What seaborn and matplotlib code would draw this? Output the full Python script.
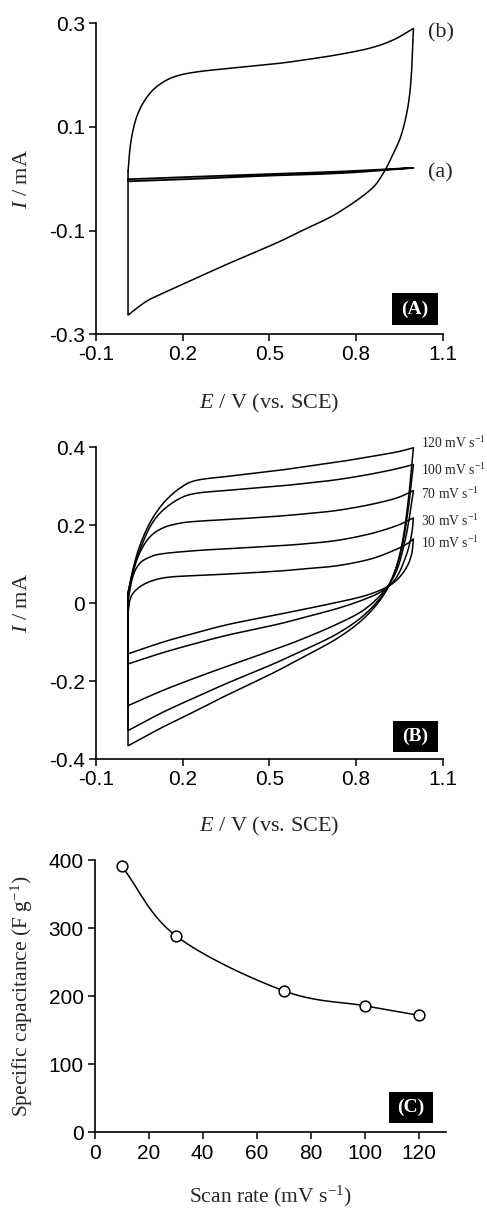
import numpy as np
import matplotlib
matplotlib.use("Agg")
import matplotlib.pyplot as plt
from matplotlib.patches import Rectangle
import seaborn as sns

# ---------------- data ----------------
# Panel A : CV curves (E in V vs SCE, I in mA)
a_up_E = [0.011, 0.25, 0.5, 0.75, 0.998]
a_up_I = [-0.001, 0.004, 0.009, 0.014, 0.021]
a_dn_E = [0.998, 0.75, 0.5, 0.25, 0.011]
a_dn_I = [0.021, 0.011, 0.006, 0.000, -0.005]

b_up_E = [0.011, 0.016, 0.025, 0.040, 0.062, 0.095, 0.140, 0.190, 0.260, 0.361, 0.523, 0.617, 0.733, 0.848, 0.929, 0.998]
b_up_I = [0.014, 0.050, 0.085, 0.118, 0.145, 0.170, 0.189, 0.200, 0.207, 0.213, 0.222, 0.229, 0.239, 0.252, 0.268, 0.290]
b_dn_E = [0.998, 0.992, 0.981, 0.958, 0.929, 0.894, 0.848, 0.733, 0.617, 0.520, 0.361, 0.246, 0.131, 0.073, 0.011]
b_dn_I = [0.290, 0.210, 0.146, 0.088, 0.049, 0.011, -0.022, -0.067, -0.099, -0.125, -0.163, -0.192, -0.221, -0.237, -0.263]

# Panel B : CV at different scan rates
scan_labels = ["120 mV s$^{-1}$", "100 mV s$^{-1}$", "70 mV s$^{-1}$", "30 mV s$^{-1}$", "10 mV s$^{-1}$"]
label_I = [0.410, 0.343, 0.279, 0.212, 0.154]

up120_E = [0.011, 0.027, 0.050, 0.085, 0.131, 0.188, 0.246, 0.361, 0.523, 0.617, 0.733, 0.848, 0.940, 0.998]
up120_I = [0.028, 0.084, 0.144, 0.204, 0.255, 0.294, 0.315, 0.326, 0.340, 0.350, 0.362, 0.376, 0.388, 0.399]
dn120_E = [0.998, 0.984, 0.963, 0.935, 0.894, 0.825, 0.733, 0.617, 0.510, 0.361, 0.246, 0.131, 0.011]
dn120_I = [0.399, 0.289, 0.170, 0.084, 0.020, -0.040, -0.091, -0.138, -0.180, -0.233, -0.276, -0.318, -0.366]

up100_E = [0.011, 0.027, 0.056, 0.090, 0.131, 0.188, 0.246, 0.361, 0.523, 0.617, 0.733, 0.848, 0.940, 0.998]
up100_I = [0.024, 0.080, 0.144, 0.200, 0.238, 0.268, 0.282, 0.290, 0.300, 0.307, 0.317, 0.331, 0.345, 0.356]
dn100_E = [0.998, 0.984, 0.963, 0.935, 0.894, 0.825, 0.733, 0.617, 0.510, 0.361, 0.246, 0.131, 0.011]
dn100_I = [0.356, 0.264, 0.161, 0.084, 0.024, -0.032, -0.079, -0.121, -0.157, -0.203, -0.241, -0.280, -0.327]

up70_E = [0.011, 0.027, 0.050, 0.085, 0.131, 0.188, 0.246, 0.361, 0.523, 0.617, 0.733, 0.848, 0.940, 0.998]
up70_I = [0.020, 0.076, 0.127, 0.169, 0.193, 0.205, 0.210, 0.215, 0.223, 0.229, 0.238, 0.253, 0.270, 0.289]
dn70_E = [0.998, 0.986, 0.969, 0.940, 0.894, 0.825, 0.733, 0.617, 0.513, 0.361, 0.246, 0.131, 0.011]
dn70_I = [0.289, 0.229, 0.161, 0.084, 0.029, -0.018, -0.054, -0.091, -0.120, -0.160, -0.191, -0.224, -0.263]

up30_E = [0.011, 0.027, 0.050, 0.085, 0.131, 0.246, 0.361, 0.523, 0.617, 0.733, 0.848, 0.940, 0.998]
up30_I = [0.007, 0.067, 0.101, 0.118, 0.127, 0.135, 0.140, 0.147, 0.152, 0.161, 0.178, 0.199, 0.219]
dn30_E = [0.998, 0.992, 0.975, 0.940, 0.894, 0.825, 0.733, 0.617, 0.523, 0.361, 0.246, 0.131, 0.011]
dn30_I = [0.219, 0.178, 0.127, 0.067, 0.033, 0.009, -0.014, -0.037, -0.055, -0.081, -0.103, -0.127, -0.156]

up10_E = [0.011, 0.021, 0.050, 0.096, 0.154, 0.246, 0.361, 0.523, 0.617, 0.733, 0.848, 0.929, 0.975, 0.998]
up10_I = [-0.023, 0.016, 0.041, 0.058, 0.067, 0.071, 0.075, 0.082, 0.088, 0.096, 0.113, 0.135, 0.152, 0.165]
dn10_E = [0.998, 0.992, 0.975, 0.940, 0.894, 0.825, 0.733, 0.617, 0.523, 0.361, 0.246, 0.131, 0.011]
dn10_I = [0.165, 0.127, 0.093, 0.059, 0.037, 0.018, 0.002, -0.016, -0.030, -0.054, -0.076, -0.100, -0.130]

# Panel C : specific capacitance vs scan rate
scan_rate = [10, 30, 70, 100, 120]
capacitance = [391, 289, 208, 186, 172]


# ---------------- helpers ----------------
def smooth(x, y, n=14):
    pts = np.column_stack([x, y]).astype(float)
    P = np.vstack([2 * pts[0] - pts[1], pts, 2 * pts[-1] - pts[-2]])
    out = []
    t = np.linspace(0, 1, n, endpoint=False)[:, None]
    for i in range(1, len(P) - 2):
        p0, p1, p2, p3 = P[i - 1], P[i], P[i + 1], P[i + 2]
        seg = 0.5 * (2 * p1 + (-p0 + p2) * t + (2 * p0 - 5 * p1 + 4 * p2 - p3) * t ** 2
                     + (-p0 + 3 * p1 - 3 * p2 + p3) * t ** 3)
        out.append(seg)
    out.append(pts[-1:])
    s = np.vstack(out)
    return s[:, 0], s[:, 1]


def cv_loop(ax, uE, uI, dE, dI, lw=1.1):
    x1, y1 = smooth(uE, uI)
    x2, y2 = smooth(dE, dI)
    xs = np.concatenate([x1, x2, [uE[0]]])
    ys = np.concatenate([y1, y2, [uI[0]]])
    sns.lineplot(x=xs, y=ys, sort=False, estimator=None, color="black", lw=lw, ax=ax)


def style_axes(ax):
    for s in ["top", "right"]:
        ax.spines[s].set_visible(False)
    for s in ["left", "bottom"]:
        ax.spines[s].set_linewidth(1.2)
        ax.spines[s].set_color("black")
    ax.tick_params(direction="out", length=5, width=1.1, labelsize=15, pad=3, colors="black")
    for lab in ax.get_xticklabels() + ax.get_yticklabels():
        lab.set_fontfamily("Liberation Sans")


def panel_box(ax, x0, x1, y0, y1, text):
    ax.add_patch(Rectangle((x0, y0), x1 - x0, y1 - y0, transform=ax.transAxes,
                           facecolor="black", edgecolor="none", clip_on=False, zorder=5))
    ax.text((x0 + x1) / 2, (y0 + y1) / 2, text, transform=ax.transAxes, color="white",
            fontsize=14, fontweight="bold", family="Liberation Serif",
            ha="center", va="center", zorder=6)


# ---------------- figure ----------------
sns.set_style("ticks")
plt.rcParams["font.family"] = ["Liberation Serif", "DejaVu Serif"]
plt.rcParams["mathtext.fontset"] = "custom"
plt.rcParams["mathtext.rm"] = "Liberation Serif"
plt.rcParams["mathtext.it"] = "Liberation Serif:italic"
plt.rcParams["mathtext.bf"] = "Liberation Serif:bold"

fig = plt.figure(figsize=(4.87, 12.11), dpi=100)
axA = fig.add_axes([0.197, 0.7240, 0.7125, 0.2568])
axB = fig.add_axes([0.197, 0.3732, 0.7125, 0.2574])
axC = fig.add_axes([0.1944, 0.0649, 0.7208, 0.2249])

# Panel A
cv_loop(axA, a_up_E, a_up_I, a_dn_E, a_dn_I, lw=1.3)
cv_loop(axA, b_up_E, b_up_I, b_dn_E, b_dn_I)
axA.set_xlim(-0.1, 1.1)
axA.set_ylim(-0.3, 0.3)
axA.set_xticks([-0.1, 0.2, 0.5, 0.8, 1.1])
axA.set_yticks([-0.3, -0.1, 0.1, 0.3])
axA.set_xticklabels(["-0.1", "0.2", "0.5", "0.8", "1.1"])
axA.set_yticklabels(["-0.3", "-0.1", "0.1", "0.3"])
axA.text(1.047, 0.281, "(b)", fontsize=16, ha="left", va="center", family="Liberation Serif")
axA.text(1.047, 0.012, "(a)", fontsize=16, ha="left", va="center", family="Liberation Serif")
panel_box(axA, 0.853, 0.9856, 0.030, 0.1328, "(A)")

# Panel B
rates_up = [(up120_E, up120_I), (up100_E, up100_I), (up70_E, up70_I), (up30_E, up30_I), (up10_E, up10_I)]
rates_dn = [(dn120_E, dn120_I), (dn100_E, dn100_I), (dn70_E, dn70_I), (dn30_E, dn30_I), (dn10_E, dn10_I)]
for (uE, uI), (dE, dI) in zip(rates_up, rates_dn):
    cv_loop(axB, uE, uI, dE, dI)
for lab, yv in zip(scan_labels, label_I):
    axB.text(1.023, yv, lab, fontsize=9.8, ha="left", va="center", family="Liberation Serif")
axB.set_xlim(-0.1, 1.1)
axB.set_ylim(-0.4, 0.4)
axB.set_xticks([-0.1, 0.2, 0.5, 0.8, 1.1])
axB.set_yticks([-0.4, -0.2, 0, 0.2, 0.4])
axB.set_xticklabels(["-0.1", "0.2", "0.5", "0.8", "1.1"])
axB.set_yticklabels(["-0.4", "-0.2", "0", "0.2", "0.4"])
panel_box(axB, 0.856, 0.9856, 0.0225, 0.1229, "(B)")

# Panel C
sx, sy = smooth(scan_rate, capacitance, n=30)
sns.lineplot(x=sx, y=sy, sort=False, estimator=None, color="black", lw=1.1, ax=axC)
sns.scatterplot(x=scan_rate, y=capacitance, marker="o", s=60, facecolor="white",
                edgecolor="black", linewidth=1.1, zorder=4, ax=axC)
axC.set_xlim(0, 130)
axC.set_ylim(0, 400)
axC.set_xticks([0, 20, 40, 60, 80, 100, 120])
axC.set_yticks([0, 100, 200, 300, 400])
panel_box(axC, 0.8385, 0.9638, 0.034, 0.149, "(C)")

for ax in (axA, axB, axC):
    style_axes(ax)

xl = r"$\it{E}$ / V (vs. SCE)"
yl = r"$\it{I}$ / mA"
for ax, ly in ((axA, -0.224), (axB, -0.215)):
    ax.set_xlabel(xl, fontsize=16, family="Liberation Serif", va="center")
    ax.set_ylabel(yl, fontsize=16, family="Liberation Serif")
    ax.xaxis.set_label_coords(0.5, ly)
    ax.yaxis.set_label_coords(-0.183, 0.5)
axC.set_xlabel(r"Scan rate (mV s$^{-1}$)", fontsize=15.5, family="Liberation Serif", va="center")
axC.set_ylabel(r"Specific capacitance (F g$^{-1}$)", fontsize=15.5, family="Liberation Serif")
axC.xaxis.set_label_coords(0.5, -0.236)
axC.yaxis.set_label_coords(-0.17, 0.5)

fig.savefig("out.png", dpi=100)
